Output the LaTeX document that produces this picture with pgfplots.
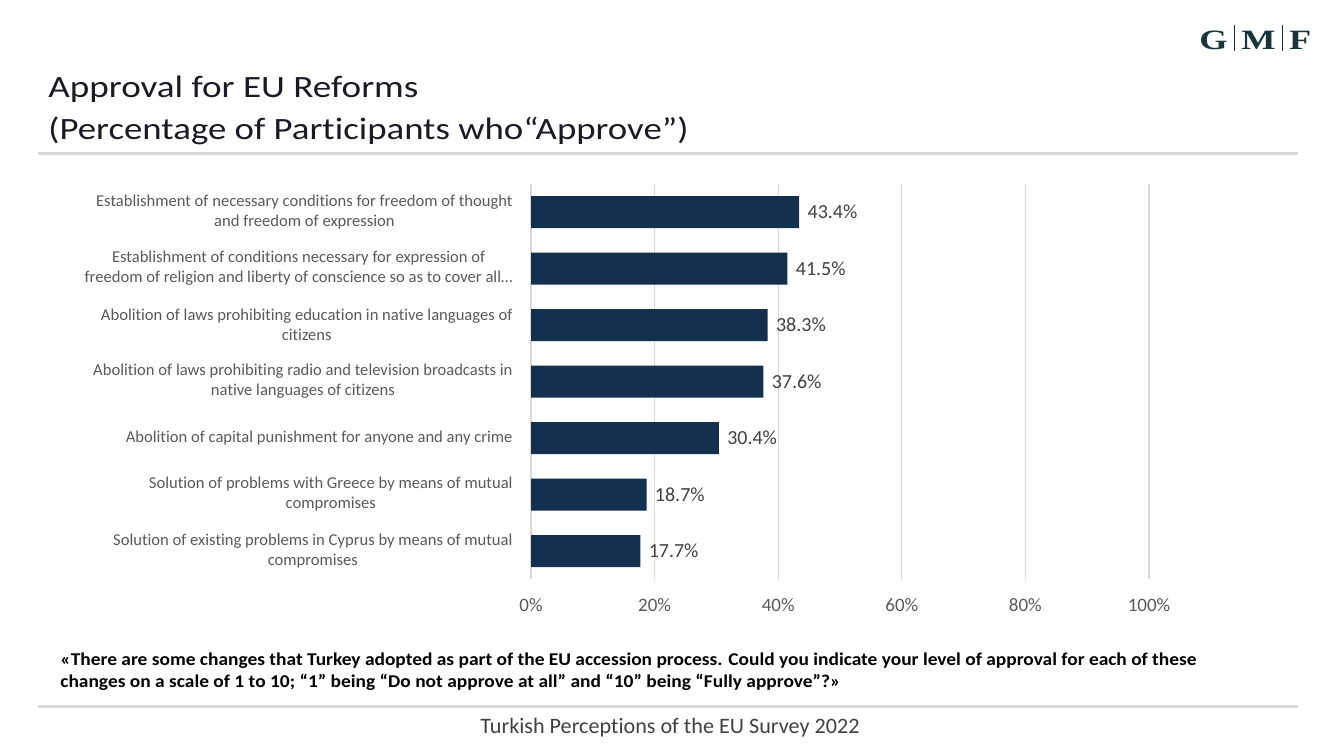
\documentclass[border=0pt]{standalone}
\usepackage{pgfplots}
\pgfplotsset{compat=1.18}
\usepackage{graphicx}
\usepackage{fontspec}
\setmainfont{Carlito}[Ligatures=NoCommon]
\newfontfamily\gmffont{Liberation Serif}
\definecolor{barc}{HTML}{14304F}
\definecolor{labc}{HTML}{595959}
\definecolor{valc}{HTML}{404040}
\definecolor{gridc}{HTML}{D9D9D9}
\definecolor{rulec}{HTML}{D9D9D9}
\definecolor{gmfc}{HTML}{17353B}
\definecolor{titc}{HTML}{1A1A24}
\begin{document}
\begin{tikzpicture}
\begin{scope}[x=0.5pt,y=-0.5pt]
\path[use as bounding box] (0,0) rectangle (1334,750);
% logo
\node[anchor=base west,inner sep=0pt,text=gmfc] at (1199,49) {\resizebox{56pt}{\height}{\fontsize{14pt}{14pt}\gmffont\bfseries G\,\rule[-1pt]{0.6pt}{13pt}\,M\,\rule[-1pt]{0.6pt}{13pt}\,F}};
% title
\node[anchor=base west,inner sep=0pt,text=titc] at (48,97) {\resizebox{185pt}{\height}{\fontsize{15.5pt}{16pt}\selectfont Approval for EU Reforms}};
\node[anchor=base west,inner sep=0pt,text=titc] at (48,139) {\resizebox{320pt}{\height}{\fontsize{15.5pt}{16pt}\selectfont (Percentage of Participants who“Approve”)}};
\draw[rulec,line width=1.5pt] (38,153) -- (1298,153);
\draw[rulec,line width=1.5pt] (38,706) -- (1298,706);
% question
\node[anchor=base west,inner sep=0pt] at (60,665) {\resizebox{568pt}{\height}{\fontsize{9pt}{11pt}\selectfont\bfseries «There are some changes that Turkey adopted as part of the EU accession process. Could you indicate your level of approval for each of these}};
\node[anchor=base west,inner sep=0pt] at (60,687) {\resizebox{390pt}{\height}{\fontsize{9pt}{11pt}\selectfont\bfseries changes on a scale of 1 to 10; “1” being “Do not approve at all” and “10” being “Fully approve”?»}};
% footer
\node[anchor=base,inner sep=0pt,text=valc] at (670,733) {\resizebox{189.5pt}{\height}{\fontsize{11pt}{13pt}\selectfont Turkish Perceptions of the EU Survey 2022}};
\end{scope}
\begin{axis}[
  at={(265.5pt,-289.625pt)}, anchor=south west,
  scale only axis, width=309pt, height=197.75pt,
  /pgf/number format/assume math mode=true,
  xbar, bar width=16pt,
  xmin=0, xmax=100, ymin=-0.5, ymax=6.5, y dir=reverse,
  axis line style={draw=none},
  major tick length=0pt,
  tick style={draw=none},
  xmajorgrids, major grid style={color=gridc, line width=0.6pt},
  xtick={0,20,40,60,80,100},
  xticklabel={\pgfmathprintnumber{\tick}\%},
  xticklabel style={anchor=north, inner sep=0pt, yshift=-9.5pt, text=labc, font=\fontsize{9.5pt}{10pt}\selectfont},
  ytick={0,1,2,3,4,5,6},
  yticklabels={
    {Establishment of necessary conditions for freedom of thought\\and freedom of expression},
    {Establishment of conditions necessary for expression of\\freedom of religion and liberty of conscience so as to cover all…},
    {Abolition of laws prohibiting education in native languages of\\citizens},
    {Abolition of laws prohibiting radio and television broadcasts in\\native languages of citizens},
    {Abolition of capital punishment for anyone and any crime},
    {Solution of problems with Greece by means of mutual\\compromises},
    {Solution of existing problems in Cyprus by means of mutual\\compromises}},
  yticklabel style={align=center, anchor=east, inner sep=0pt, xshift=-9pt, text=labc, font=\fontsize{8.3pt}{10pt}\selectfont},
  nodes near coords={\pgfmathprintnumber[fixed,fixed zerofill,precision=1]{\pgfplotspointmeta}\%},
  nodes near coords style={anchor=west, inner sep=0pt, xshift=4pt, text=valc, font=\fontsize{10pt}{10pt}\selectfont},
]
\addplot[fill=barc, draw=none] coordinates {(43.4,0) (41.5,1) (38.3,2) (37.6,3) (30.4,4) (18.7,5) (17.7,6)};
\end{axis}
\end{tikzpicture}
\end{document}
